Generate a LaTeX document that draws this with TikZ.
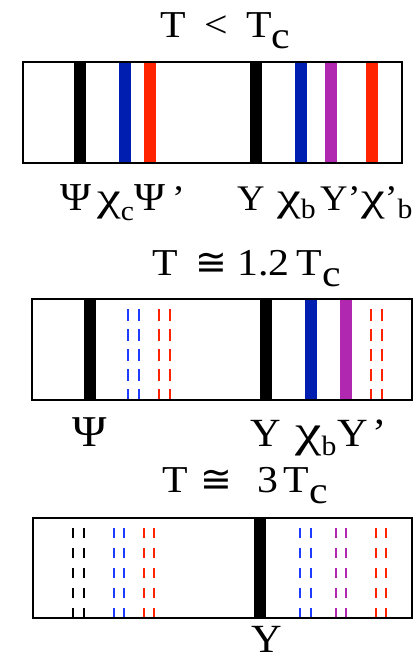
\documentclass[tikz,border=0pt]{standalone}
\usepackage{fontspec}
\setmainfont{Liberation Serif}
\newfontfamily\titf[FakeStretch=1.1]{Liberation Serif}
\newfontfamily\labf[FakeStretch=1.06]{Liberation Serif}
\newfontfamily\symf{DejaVu Sans}
\definecolor{cblue}{RGB}{0,30,175}
\definecolor{lblue}{RGB}{30,60,255}
\definecolor{cred}{RGB}{255,35,0}
\definecolor{cpurple}{RGB}{176,40,176}
\newcommand\lowr[2]{\raisebox{-#1pt}{#2}}
\newcommand\chx{\scalebox{1.4}[1.12]{χ}}
\newcommand\psx{\scalebox{1.1}{Ψ}}
\newcommand\subf{\fontsize{28}{30}\selectfont}
\begin{document}
\begin{tikzpicture}[x=1pt,y=-1pt,
  bar/.style={line width=12pt},
  dbar/.style={line width=2.4pt, dash pattern=on 12pt off 8pt},
  dbarb/.style={line width=2.4pt, dash pattern=on 10pt off 10pt},
  frame/.style={draw, line width=2pt},
  title/.style={font=\titf\fontsize{38}{40}\selectfont, inner sep=0pt, anchor=base west},
  lab/.style={font=\labf\fontsize{36}{40}\selectfont, inner sep=0pt, anchor=base west},
  labb/.style={font=\labf\fontsize{40}{44}\selectfont, inner sep=0pt, anchor=base west}]
\useasboundingbox (0,0) rectangle (420,662);
% ---------- panel 1
\node[title] (t1) at (160,37) {T\hspace{19pt}<\hspace{18pt}T\lowr{11}{c}};
\foreach \x/\c in {79.5/black,125/cblue,150/cred,256/black,301/cblue,331/cpurple,371.5/cred}
  \draw[bar,\c] (\x,62) -- (\x,163);
\draw[frame] (23,62) rectangle (402,163);
\node[lab] (l1a) at (60,210) {\psx};
\node[lab] (l1b) at (97,210) {\chx\lowr{10}{\subf c}};
\node[lab] (l1c) at (134,210) {\psx\hspace{7pt}’};
\node[lab] (l1d) at (237,210) {Y};
\node[lab] (l1e) at (277,210) {\chx\lowr{8}{\subf b}};
\node[lab] (l1f) at (320,210) {Y’};
\node[lab] (l1g) at (361,210) {\chx’\lowr{8}{\subf b}};
% ---------- panel 2
\node[title] (t2) at (152,275) {T\hspace{18pt}{\symf ≅}\hspace{10pt}1.2\hspace{7pt}T\lowr{11}{c}};
\foreach \x/\c in {89.5/black,265.5/black,311/cblue,346/cpurple}
  \draw[bar,\c] (\x,299) -- (\x,400);
\foreach \x/\c in {128/lblue,139/lblue,159/cred,170/cred,371/cred,382/cred}
  \draw[dbar,\c] (\x,309) -- (\x,400);
\draw[frame] (32,299) rectangle (412,400);
\node[labb] (l2a) at (72,446) {\psx};
\node[labb] (l2b) at (250,446) {Y};
\node[labb] (l2c) at (295,446) {\chx\lowr{9}{\subf b}};
\node[labb] (l2d) at (337,446) {Y\hspace{5pt}’};
% ---------- panel 3
\node[title] (t3) at (162,492) {T\hspace{13pt}{\symf ≅}\hspace{25pt}3\hspace{5pt}T\lowr{11}{c}};
\draw[bar,black] (260,518) -- (260,618);
\foreach \x/\c in {73/black,84/black,114/lblue,124/lblue,144/cred,154/cred,300/lblue,311/lblue,336/cpurple,346/cpurple,376/cred,386/cred}
  \draw[dbarb,\c] (\x,528) -- (\x,618);
\draw[frame] (33,518) rectangle (412,618);
\node[labb] (l3a) at (251,652) {Y};
\end{tikzpicture}
\end{document}
